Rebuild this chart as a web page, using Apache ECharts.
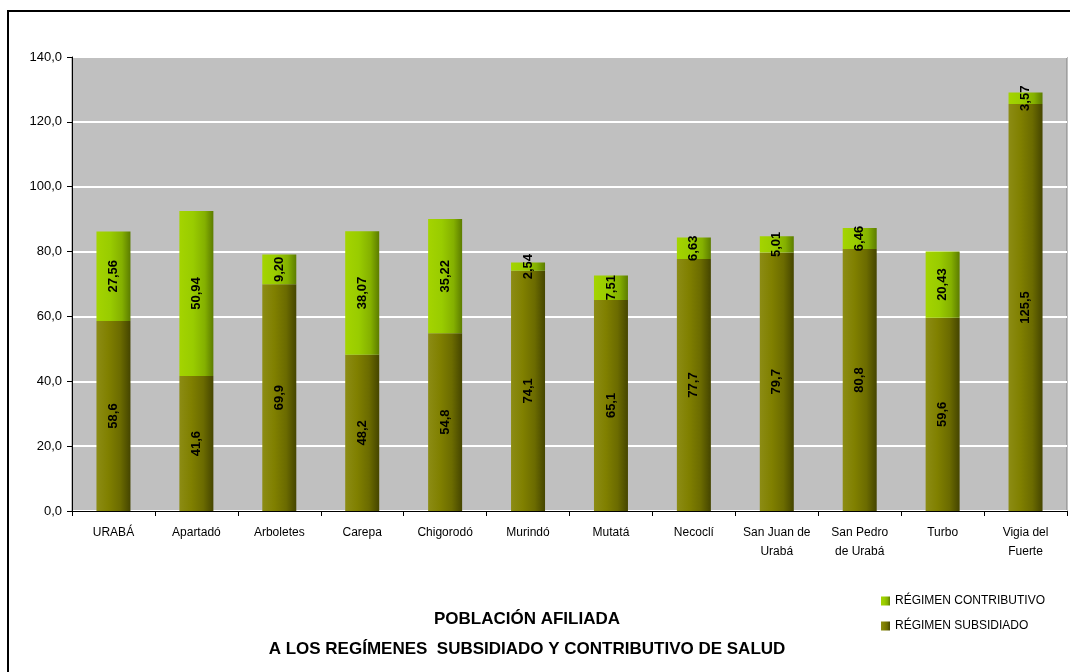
<!DOCTYPE html>
<html>
<head>
<meta charset="utf-8">
<script src="https://cdn.jsdelivr.net/npm/echarts@6/dist/echarts.min.js"></script>
<style>
  html, body { margin: 0; padding: 0; background: #fff; }
  #chart { width: 1070px; height: 672px; }
</style>
</head>
<body>
<div id="chart"></div>
<script>
// municipalities (x axis)
const categories = ['URABÁ', 'Apartadó', 'Arboletes', 'Carepa', 'Chigorodó', 'Murindó', 'Mutatá',
  'Necoclí', 'San Juan de\nUrabá', 'San Pedro\nde Urabá', 'Turbo', 'Vigia del\nFuerte']

// values
const subsidiado = [58.6, 41.6, 69.9, 48.2, 54.8, 74.1, 65.1, 77.7, 79.7, 80.8, 59.6, 125.5]
const contributivo = [27.56, 50.94, 9.20, 38.07, 35.22, 2.54, 7.51, 6.63, 5.01, 6.46, 20.43, 3.57]

const yTicks = [0, 20, 40, 60, 80, 100, 120, 140]

const FONT = 'Arial, "Liberation Sans", sans-serif'
const comma = (v, d) => v.toFixed(d).replace('.', ',')

const chart = echarts.init(document.getElementById('chart'))

const hGrad = (stops) => new echarts.graphic.LinearGradient(0, 0, 1, 0,
  stops.map(([offset, color]) => ({ offset, color })))

const option = {
  backgroundColor: '#fff',
  animation: false,
  textStyle: { fontFamily: FONT },
  graphic: [{
    type: 'rect',
    shape: { x: 8, y: 11, width: 1100, height: 700 },
    style: { fill: 'none', stroke: '#000', lineWidth: 2 },
    z: 100
  }],
  title: {
    text: 'POBLACIÓN AFILIADA\nA LOS REGÍMENES  SUBSIDIADO Y CONTRIBUTIVO DE SALUD',
    left: 522,
    top: 599,
    textAlign: 'center',
    textStyle: { fontFamily: FONT, fontSize: 17, fontWeight: 'bold', color: '#000', lineHeight: 30 }
  },
  legend: {
    orient: 'vertical',
    left: 876,
    top: 590,
    icon: 'rect',
    itemWidth: 9,
    itemHeight: 9,
    itemGap: 13,
    data: ['RÉGIMEN CONTRIBUTIVO', 'RÉGIMEN SUBSIDIADO'],
    textStyle: { fontFamily: FONT, fontSize: 12, color: '#000' }
  },
  grid: {
    left: 72,
    top: 57,
    right: 3,
    bottom: 161,
    show: true,
    backgroundColor: '#c0c0c0',
    borderColor: '#808080',
    borderWidth: 1
  },
  xAxis: {
    type: 'category',
    data: categories,
    axisLine: { lineStyle: { color: '#000', width: 1 } },
    axisTick: { show: true, length: 5, lineStyle: { color: '#000' } },
    axisLabel: { color: '#000', fontSize: 12, margin: 12, lineHeight: 19, interval: 0 }
  },
  yAxis: {
    type: 'value',
    min: yTicks[0],
    max: yTicks[yTicks.length - 1],
    interval: 20,
    axisLine: { show: true, lineStyle: { color: '#000', width: 1 } },
    axisTick: { show: true, length: 5, lineStyle: { color: '#000' } },
    axisLabel: { color: '#000', fontSize: 13, margin: 10, formatter: v => comma(v, 1) },
    splitLine: { lineStyle: { color: '#fff', width: 2 } }
  },
  series: [
    {
      name: 'RÉGIMEN SUBSIDIADO',
      type: 'bar',
      stack: 'total',
      barWidth: 34,
      data: subsidiado,
      itemStyle: {
        color: hGrad([[0, '#8c8c14'], [0.35, '#808000'], [0.7, '#6b6b00'], [1, '#454500']])
      },
      label: {
        show: true,
        position: 'inside',
        rotate: 90,
        color: '#000',
        fontSize: 13,
        fontWeight: 'bold',
        formatter: p => comma(p.value, 1)
      }
    },
    {
      name: 'RÉGIMEN CONTRIBUTIVO',
      type: 'bar',
      stack: 'total',
      barWidth: 34,
      data: contributivo,
      itemStyle: {
        color: hGrad([[0, '#a4d400'], [0.4, '#99cc00'], [0.75, '#84b000'], [1, '#5c7c00']])
      },
      label: {
        show: true,
        position: 'inside',
        rotate: 90,
        color: '#000',
        fontSize: 13,
        fontWeight: 'bold',
        formatter: p => comma(p.value, 2)
      }
    }
  ]
}

chart.setOption(option)
</script>
</body>
</html>
